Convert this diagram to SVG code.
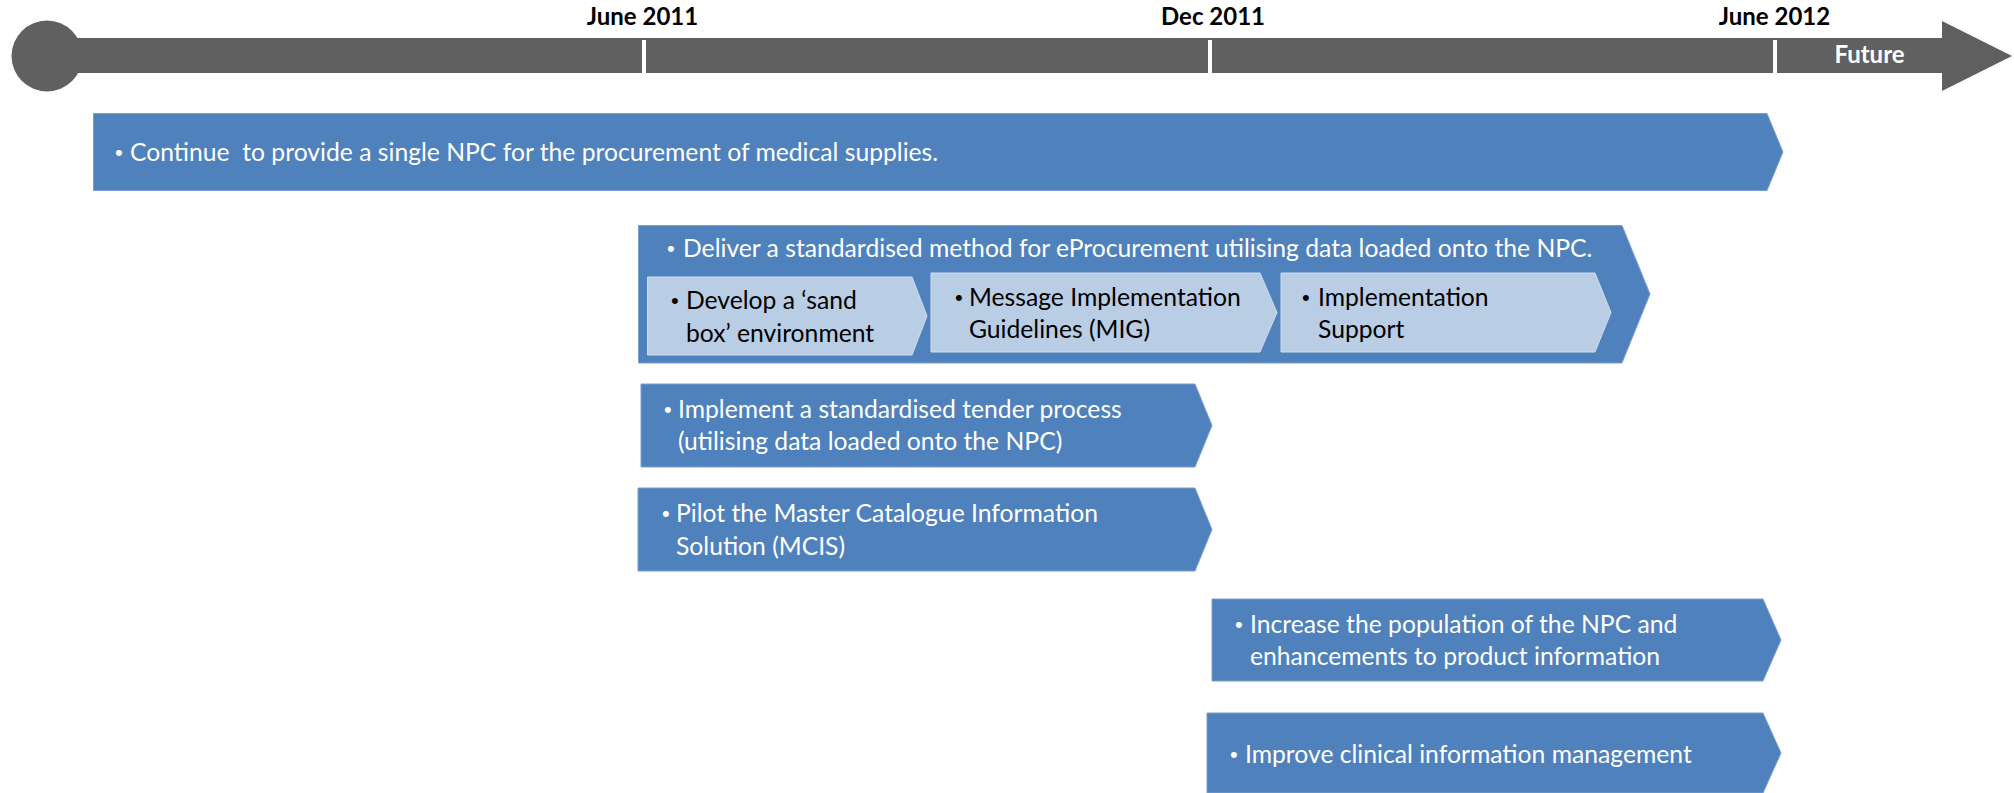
<svg xmlns="http://www.w3.org/2000/svg" width="2014" height="793" viewBox="0 0 2014 793">
<style>
.bar{fill:#4F81BD;stroke:#7B9FD0;stroke-width:1}
.sub{fill:#B9CDE5;stroke:#D0DDEE;stroke-width:1}
.tl{fill:#606060}
.tick{fill:#FFFFFF}
.w{font-family:Lato,"Liberation Sans",sans-serif;font-size:24.7px;fill:#FFFFFF}
.k{font-family:Lato,"Liberation Sans",sans-serif;font-size:24.7px;fill:#000000}
.b{font-family:"Liberation Sans",sans-serif;font-size:22px}
.lbl{font-family:Lato,"Liberation Sans",sans-serif;font-size:24px;font-weight:bold;fill:#000000}
.fut{font-family:Lato,"Liberation Sans",sans-serif;font-size:24px;font-weight:bold;fill:#FFFFFF}
</style>
<rect width="2014" height="793" fill="#FFFFFF"/>
<g id="timeline">
<circle class="tl" cx="47" cy="56" r="35.5"/>
<rect class="tl" x="46" y="38" width="1897" height="35"/>
<polygon class="tl" points="1942,21 2012,56 1942,91"/>
<rect class="tick" x="642" y="40" width="4" height="33"/>
<rect class="tick" x="1208" y="40" width="4" height="33"/>
<rect class="tick" x="1773" y="40" width="4" height="33"/>
<text class="lbl" x="642.5" y="25" text-anchor="middle">June 2011</text>
<text class="lbl" x="1213" y="25" text-anchor="middle">Dec 2011</text>
<text class="lbl" x="1774.5" y="25" text-anchor="middle">June 2012</text>
<text class="fut" x="1869.5" y="63" text-anchor="middle">Future</text>
</g>
<g id="n-continue">
<polygon class="bar" points="93.5,113.5 1767,113.5 1783,152 1767,190.5 93.5,190.5"/>
<text class="w b" x="115" y="160">•</text>
<text class="w" x="130" y="161" xml:space="preserve">Continue  to provide a single NPC for the procurement of medical supplies.</text>
</g>
<g id="n-deliver">
<polygon class="bar" points="638.5,225.5 1622,225.5 1650,294 1622,363 638.5,363"/>
<text class="w b" x="667" y="256">•</text>
<text class="w" x="683" y="257">Deliver a standardised method for eProcurement utilising data loaded onto the NPC.</text>
</g>
<g id="n-sandbox">
<polygon class="sub" points="647.5,277 912,277 927,316 912,355 647.5,355"/>
<text class="k b" x="671" y="308">•</text>
<text class="k" x="686" y="309">Develop a ‘sand</text>
<text class="k" x="686" y="342">box’ environment</text>
</g>
<g id="n-mig">
<polygon class="sub" points="931,273 1260,273 1277,312.5 1260,352 931,352"/>
<text class="k b" x="955" y="305">•</text>
<text class="k" x="969" y="306">Message Implementation</text>
<text class="k" x="969" y="338">Guidelines (MIG)</text>
</g>
<g id="n-support">
<polygon class="sub" points="1281,273 1595,273 1611,312.5 1595,352 1281,352"/>
<text class="k b" x="1302" y="305">•</text>
<text class="k" x="1318" y="306">Implementation</text>
<text class="k" x="1318" y="338">Support</text>
</g>
<g id="n-tender">
<polygon class="bar" points="641,384 1195,384 1212,425.5 1195,467 641,467"/>
<text class="w b" x="664" y="417">•</text>
<text class="w" x="678" y="418">Implement a standardised tender process</text>
<text class="w" x="678" y="450">(utilising data loaded onto the NPC)</text>
</g>
<g id="n-mcis">
<polygon class="bar" points="638,488 1195,488 1212,529.5 1195,571 638,571"/>
<text class="w b" x="662" y="521">•</text>
<text class="w" x="676" y="522">Pilot the Master Catalogue Information</text>
<text class="w" x="676" y="555">Solution (MCIS)</text>
</g>
<g id="n-population">
<polygon class="bar" points="1212,599 1763,599 1781,640 1763,681 1212,681"/>
<text class="w b" x="1235" y="632">•</text>
<text class="w" x="1250" y="633">Increase the population of the NPC and</text>
<text class="w" x="1250" y="665">enhancements to product information</text>
</g>
<g id="n-clinical">
<polygon class="bar" points="1207,713 1763,713 1781,753 1763,793 1207,793"/>
<text class="w b" x="1230" y="762">•</text>
<text class="w" x="1245" y="763">Improve clinical information management</text>
</g>
<g id="connectors"></g>
</svg>
